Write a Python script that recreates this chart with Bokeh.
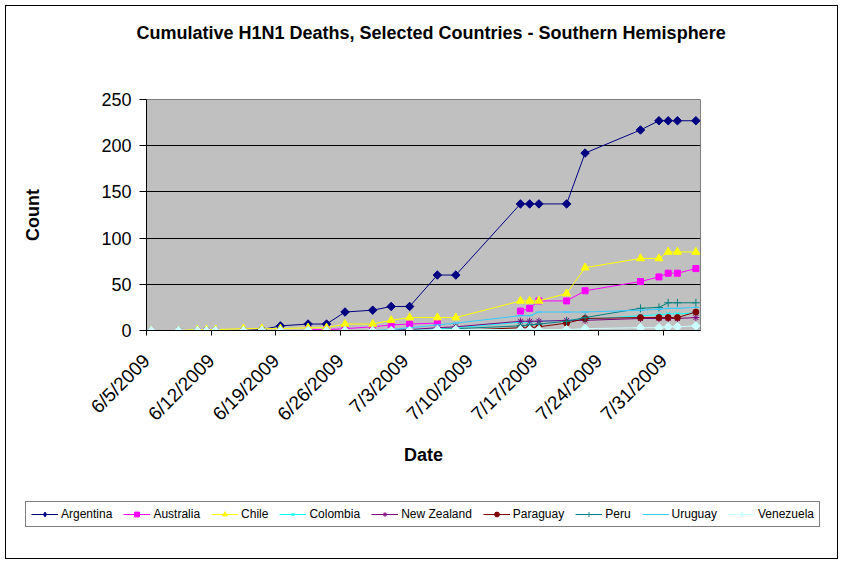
import datetime as dt
import math
import numpy as np
from bokeh.plotting import figure
from bokeh.layouts import column
from bokeh.models import (Range1d, FixedTicker, Legend, LegendItem,
                          ColumnDataSource, Title)
from bokeh.embed import file_html
from bokeh.resources import INLINE

# ---------------- data ----------------
dates = ["2009-06-05", "2009-06-08", "2009-06-10", "2009-06-11", "2009-06-12",
         "2009-06-15", "2009-06-17", "2009-06-19", "2009-06-22", "2009-06-24",
         "2009-06-26", "2009-06-29", "2009-07-01", "2009-07-03", "2009-07-06",
         "2009-07-08", "2009-07-15", "2009-07-16", "2009-07-17", "2009-07-20",
         "2009-07-22", "2009-07-28", "2009-07-30", "2009-07-31", "2009-08-01",
         "2009-08-03"]
N = None
argentina   = [0, 0, 0, 0, 0, 0, 1, 5, 7, 7, 20, 22, 26, 26, 60, 60, 137, 137, 137, 137, 192, 217, 227, 227, 227, 227]
australia   = [N, N, N, N, N, N, N, N, 1, 1, 2, 4, 6, 7, 8, N, 21, 24, 32, 32, 43, 53, 58, 62, 62, 67]
chile       = [0, 0, 1, 1, 1, 2, 2, 2, 3, 3, 7, 7, 11, 14, 14, 14, 32, 32, 32, 40, 68, 78, 78, 85, 85, 85]
colombia    = [0, 0, 0, 0, 0, 0, 0, 0, 0, 0, 0, 0, 0, 1, 2, 3, 9, 9, 10, 11, 12, 16, 17, 18, 18, 19]
new_zealand = [0, 0, 0, 0, 0, 0, 0, 0, 0, 0, 0, 0, 0, 1, 3, 4, 10, 10, 10, 11, 11, 13, 13, 13, 13, 14]
paraguay    = [0, 0, 0, 0, 0, 0, 0, 0, 0, 0, 0, 0, 0, 0, 0, 0, 3, 3, 4, 8, 13, 14, 14, 14, 14, 20]
peru        = [0, 0, 0, 0, 0, 0, 0, 0, 0, 0, 0, 0, 0, 0, 1, 2, 5, 6, 7, 10, 14, 24, 25, 30, 30, 30]
uruguay     = [0, 0, 0, 0, 0, 0, 0, 0, 0, 0, 0, 0, 1, 3, 6, 8, 16, 16, 20, 20, 20, 22, 23, 24, 24, 25]
venezuela   = [0, 0, 0, 0, 0, 0, 0, 0, 0, 0, 0, 0, 0, 0, 1, 1, 1, 1, 1, 1, 2, 3, 3, 4, 4, 5]

series_names = ["Argentina", "Australia", "Chile", "Colombia", "New Zealand",
                "Paraguay", "Peru", "Uruguay", "Venezuela"]
series_values = [argentina, australia, chile, colombia, new_zealand,
                 paraguay, peru, uruguay, venezuela]
series_colors = ["#000080", "#FF00FF", "#FFFF00", "#00FFFF", "#800080",
                 "#800000", "#008080", "#33CCFF", "#CCFFFF"]
series_markers = ["square", "square", "triangle", "x", "asterisk",
                  "circle", "cross", "dash", "square"]
legend_markers = ["diamond", "square", "triangle", "x", "asterisk",
                  "circle", "cross", "dash", "diamond"]
marker_sizes = [6, 6, 8, 6, 7, 6, 8, 7, 6]
legend_sizes = [8, 6, 8, 6, 7, 6, 8, 7, 8]
marker_angles = [math.pi / 4, 0, 0, 0, 0, 0, 0, 0, math.pi / 4]

axis_start = "2009-06-05"
axis_days = 60
tick_step = 7
y_ticks = [0, 50, 100, 150, 200, 250]
title_text = "Cumulative H1N1 Deaths, Selected Countries - Southern Hemisphere"

# ---------------- helpers ----------------
start = dt.date.fromisoformat(axis_start)
day_index = [(dt.date.fromisoformat(d) - start).days for d in dates]
xs = np.array(day_index, dtype=float) + 0.5   # points sit at the day centre

x_ticks = list(range(0, axis_days, tick_step))
x_labels = {}
for t in x_ticks:
    d = start + dt.timedelta(days=t)
    x_labels[t] = f"{d.month}/{d.day}/{d.year}"

FONT = "Liberation Sans"
W = 831
H_MAIN = 490
H_LEG = 62

p = figure(width=W, height=H_MAIN, output_backend="svg", toolbar_location=None,
           x_range=Range1d(0, axis_days), y_range=Range1d(0, 250),
           min_border_left=140, min_border_right=137, min_border_top=93,
           min_border_bottom=H_MAIN - 93 - 231,
           background_fill_color="#C0C0C0", border_fill_color="white",
           title=None)
p.frame_align = False

# spacer (closest to the frame) then the real title
p.add_layout(Title(text=" ", text_font_size="10px", standoff=39), "above")
ttl = Title(text=title_text, align="left", offset=-10, standoff=10,
            text_font=FONT, text_font_style="bold", text_font_size="18px",
            text_color="black", vertical_align="bottom")
p.add_layout(ttl, "above")

p.outline_line_color = "#808080"
p.outline_line_width = 1
p.xgrid.visible = False
p.ygrid.grid_line_color = "black"
p.ygrid.grid_line_width = 1
p.ygrid.ticker = FixedTicker(ticks=y_ticks)

ya = p.yaxis[0]
ya.ticker = FixedTicker(ticks=y_ticks)
ya.axis_label = "Count"
ya.axis_label_text_font = FONT
ya.axis_label_text_font_style = "bold"
ya.axis_label_text_font_size = "18px"
ya.axis_label_text_color = "black"
ya.axis_label_standoff = 55
ya.major_label_text_font = FONT
ya.major_label_text_font_size = "18px"
ya.major_label_text_color = "black"
ya.major_label_standoff = 8
ya.major_tick_out = 7
ya.major_tick_in = 0
ya.minor_tick_out = 0
ya.minor_tick_in = 0
ya.axis_line_color = "black"
ya.major_tick_line_color = "black"

xa = p.xaxis[0]
xa.ticker = FixedTicker(ticks=x_ticks)
xa.major_label_overrides = x_labels
xa.major_label_orientation = math.pi / 4
xa.axis_label = "Date"
xa.axis_label_text_font = FONT
xa.axis_label_text_font_style = "bold"
xa.axis_label_text_font_size = "18px"
xa.axis_label_text_color = "black"
xa.axis_label_standoff = 10
xa.major_label_text_font = FONT
xa.major_label_text_font_size = "19px"
xa.major_label_text_color = "black"
xa.major_label_standoff = 22
xa.major_tick_out = 5
xa.major_tick_in = 0
xa.minor_tick_out = 0
xa.minor_tick_in = 0
xa.axis_line_color = "black"
xa.major_tick_line_color = "black"

# legend lives in a slim companion figure under the chart
pl = figure(width=W, height=H_LEG, output_backend="svg", toolbar_location=None,
            x_range=Range1d(0, 1), y_range=Range1d(0, 1), min_border=0,
            x_axis_location=None, y_axis_location=None, title=None,
            background_fill_color="white", border_fill_color="white")
pl.frame_align = False
pl.outline_line_color = None
pl.grid.visible = False

items = []
for name, vals, col, mk, ms, ang, lmk, lms in zip(series_names, series_values,
                                                  series_colors, series_markers,
                                                  marker_sizes, marker_angles,
                                                  legend_markers, legend_sizes):
    y = np.array([np.nan if v is None else v for v in vals], dtype=float)
    src = ColumnDataSource(dict(x=xs, y=y))
    p.line("x", "y", source=src, line_color=col, line_width=1)
    p.scatter("x", "y", source=src, marker=mk, size=ms, angle=ang,
              fill_color=col, line_color=col, line_width=1)
    # legend proxies (no visible data)
    dsrc = ColumnDataSource(dict(x=[np.nan], y=[np.nan]))
    ln = pl.line("x", "y", source=dsrc, line_color=col, line_width=1)
    sc = pl.scatter("x", "y", source=dsrc, marker=lmk, size=lms,
                    fill_color=col, line_color=col, line_width=1)
    items.append(LegendItem(label=name, renderers=[ln, sc]))

legend = Legend(items=items, orientation="horizontal", location=(19, 31))
legend.label_text_font = FONT
legend.label_text_font_size = "12px"
legend.label_text_color = "black"
legend.glyph_width = 27
legend.glyph_height = 12
legend.label_standoff = 3
legend.spacing = 11
legend.padding = 5
legend.margin = 0
legend.label_height = 12
legend.border_line_color = "black"
legend.border_line_width = 1
legend.background_fill_color = "white"
legend.background_fill_alpha = 1
pl.add_layout(legend, "center")

page = column(p, pl, spacing=0,
              styles={"border": "1px solid black", "margin-left": "5px",
                      "margin-top": "5px"})

open("out.html", "w").write(file_html(page, INLINE))
